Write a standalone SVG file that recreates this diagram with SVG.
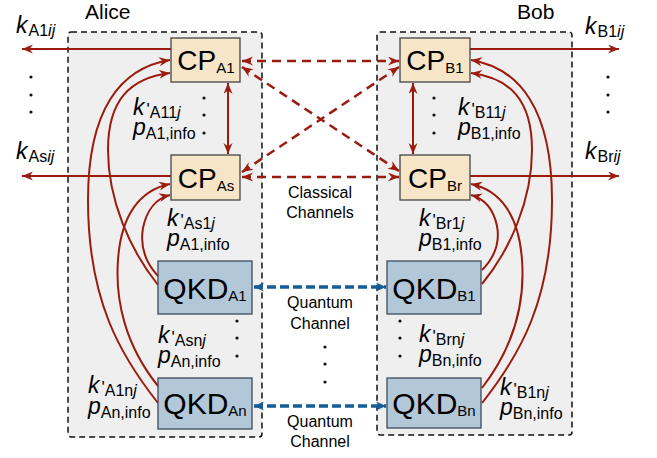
<svg xmlns="http://www.w3.org/2000/svg" width="657" height="458" viewBox="0 0 657 458">
<defs>
<style>
text{font-family:"Liberation Sans",Arial,sans-serif;fill:#000}
.party{fill:#efefef;stroke:#111;stroke-width:1.5;stroke-dasharray:6 4}
.cp{fill:#f6e5c6;stroke:#444;stroke-width:1.3}
.qkd{fill:#b2c8d9;stroke:#3b4b5b;stroke-width:1.3}
.big{font-size:28px}
.bigq{font-size:30px}
.bsub{font-size:15px}
.v{font-size:23px;font-style:italic}
.pr{font-size:17px;font-style:normal}
.s{font-size:16px;font-style:normal}
.si{font-size:16px;font-style:italic}
.lbl{font-size:16px}
.nm{font-size:21px}
.red{fill:none;stroke:#9b1c0f;stroke-width:2}
.cls{fill:none;stroke:#9b1c0f;stroke-width:2.5;stroke-dasharray:9 6}
.qc{fill:none;stroke:#155c99;stroke-width:3.5;stroke-dasharray:9 4}
.dot{fill:#111}
</style>
<marker id="ar" markerUnits="userSpaceOnUse" markerWidth="12" markerHeight="10" refX="11" refY="4.5" orient="auto-start-reverse">
<path d="M0,0 L11,4.5 L0,9 L3.5,4.5 z" fill="#9b1c0f"/>
</marker>
<marker id="ab" markerUnits="userSpaceOnUse" markerWidth="11" markerHeight="10" refX="10" refY="4.5" orient="auto-start-reverse">
<path d="M0,0 L10,4.5 L0,9 L3,4.5 z" fill="#155c99"/>
</marker>
</defs>

<g id="alice">
<rect class="party" x="68" y="32" width="194" height="405" rx="3"/>
<text class="nm" x="85" y="19">Alice</text>
</g>
<g id="bob">
<rect class="party" x="377" y="32" width="195" height="403" rx="3"/>
<text class="nm" x="517" y="19">Bob</text>
</g>

<g id="connectors">
<path class="red" d="M171,49 L22,49" marker-end="url(#ar)"/>
<path class="red" d="M171,176 L22,176" marker-end="url(#ar)"/>
<path class="red" d="M470,49 L619,49" marker-end="url(#ar)"/>
<path class="red" d="M470,176 L619,176" marker-end="url(#ar)"/>
<path class="red" d="M228,83 L228,154" marker-start="url(#ar)" marker-end="url(#ar)"/>
<path class="red" d="M413,83 L413,154" marker-start="url(#ar)" marker-end="url(#ar)"/>
<path class="cls" d="M242,61 L399,61" marker-start="url(#ar)" marker-end="url(#ar)"/>
<path class="cls" d="M242,177 L399,177" marker-start="url(#ar)" marker-end="url(#ar)"/>
<path class="cls" d="M242,67 L399,171" marker-start="url(#ar)" marker-end="url(#ar)"/>
<path class="cls" d="M242,172 L399,67" marker-start="url(#ar)" marker-end="url(#ar)"/>
<path class="qc" d="M254,287 L386,287" marker-start="url(#ab)" marker-end="url(#ab)"/>
<path class="qc" d="M254,406 L386,406" marker-start="url(#ab)" marker-end="url(#ab)"/>
<path class="red" d="M158,403 C120,355 88,300 88,200 C88,110 120,68 170,60" marker-end="url(#ar)"/>
<path class="red" d="M158,285 C130,250 108,200 108,150 C108,100 130,78 170,73" marker-end="url(#ar)"/>
<path class="red" d="M158,386 C125,345 115,300 118,260 C121,215 140,190 170,184" marker-end="url(#ar)"/>
<path class="red" d="M158,276 C145,262 140,245 143,228 C147,208 158,198 170,195" marker-end="url(#ar)"/>
<path class="red" d="M482,403 C520,355 552,300 552,200 C552,110 520,68 471,60" marker-end="url(#ar)"/>
<path class="red" d="M482,284 C510,250 532,200 532,150 C532,100 510,78 471,73" marker-end="url(#ar)"/>
<path class="red" d="M482,388 C515,345 525,300 522,260 C519,215 500,190 471,184" marker-end="url(#ar)"/>
<path class="red" d="M482,270 C495,257 500,242 497,226 C493,207 482,198 471,195" marker-end="url(#ar)"/>
</g>

<g id="cpA1">
<rect class="cp" x="171" y="38" width="69" height="44"/>
<text class="big" x="206" y="70" text-anchor="middle">CP<tspan class="bsub" dy="3">A1</tspan></text>
</g>
<g id="cpAs">
<rect class="cp" x="171" y="155" width="69" height="45"/>
<text class="big" x="206" y="188" text-anchor="middle">CP<tspan class="bsub" dy="3">As</tspan></text>
</g>
<g id="cpB1">
<rect class="cp" x="400" y="38" width="70" height="44"/>
<text class="big" x="435" y="70" text-anchor="middle">CP<tspan class="bsub" dy="3">B1</tspan></text>
</g>
<g id="cpBr">
<rect class="cp" x="400" y="155" width="70" height="45"/>
<text class="big" x="435" y="188" text-anchor="middle">CP<tspan class="bsub" dy="3">Br</tspan></text>
</g>
<g id="qkdA1">
<rect class="qkd" x="158" y="261" width="94" height="53"/>
<text class="bigq" x="205" y="299" text-anchor="middle">QKD<tspan class="bsub" dy="2">A1</tspan></text>
</g>
<g id="qkdAn">
<rect class="qkd" x="158" y="378" width="94" height="51"/>
<text class="bigq" x="205" y="414" text-anchor="middle">QKD<tspan class="bsub" dy="2">An</tspan></text>
</g>
<g id="qkdB1">
<rect class="qkd" x="387" y="261" width="94" height="53"/>
<text class="bigq" x="434" y="299" text-anchor="middle">QKD<tspan class="bsub" dy="2">B1</tspan></text>
</g>
<g id="qkdBn">
<rect class="qkd" x="387" y="378" width="94" height="50"/>
<text class="bigq" x="434" y="414" text-anchor="middle">QKD<tspan class="bsub" dy="2">Bn</tspan></text>
</g>

<g id="labels">
<text class="v" x="16" y="33">k<tspan class="s" dy="3" dx="1">A1</tspan><tspan class="si">ij</tspan></text>
<text class="v" x="16" y="159">k<tspan class="s" dy="3" dx="1">As</tspan><tspan class="si">ij</tspan></text>
<text class="v" x="585" y="34">k<tspan class="s" dy="3" dx="1">B1</tspan><tspan class="si">ij</tspan></text>
<text class="v" x="585" y="159">k<tspan class="s" dy="3" dx="1">Br</tspan><tspan class="si">ij</tspan></text>

<text class="v" x="133" y="115">k<tspan class="pr" dx="2">'</tspan><tspan class="s" dy="3">A11</tspan><tspan class="si">j</tspan></text>
<text class="v" x="133" y="135">p<tspan class="s" dy="4">A1,info</tspan></text>
<text class="v" x="167" y="226">k<tspan class="pr" dx="2">'</tspan><tspan class="s" dy="3">As1</tspan><tspan class="si">j</tspan></text>
<text class="v" x="167" y="246">p<tspan class="s" dy="4">A1,info</tspan></text>
<text class="v" x="158" y="343">k<tspan class="pr" dx="2">'</tspan><tspan class="s" dy="3">Asn</tspan><tspan class="si">j</tspan></text>
<text class="v" x="158" y="363">p<tspan class="s" dy="4">An,info</tspan></text>
<text class="v" x="88" y="393">k<tspan class="pr" dx="2">'</tspan><tspan class="s" dy="3">A1n</tspan><tspan class="si">j</tspan></text>
<text class="v" x="88" y="414">p<tspan class="s" dy="4">An,info</tspan></text>

<text class="v" x="458" y="115">k<tspan class="pr" dx="2">'</tspan><tspan class="s" dy="3">B11</tspan><tspan class="si">j</tspan></text>
<text class="v" x="458" y="135">p<tspan class="s" dy="4">B1,info</tspan></text>
<text class="v" x="419" y="226">k<tspan class="pr" dx="2">'</tspan><tspan class="s" dy="3">Br1</tspan><tspan class="si">j</tspan></text>
<text class="v" x="419" y="246">p<tspan class="s" dy="4">B1,info</tspan></text>
<text class="v" x="419" y="342">k<tspan class="pr" dx="2">'</tspan><tspan class="s" dy="3">Brn</tspan><tspan class="si">j</tspan></text>
<text class="v" x="419" y="362">p<tspan class="s" dy="4">Bn,info</tspan></text>
<text class="v" x="500" y="395">k<tspan class="pr" dx="2">'</tspan><tspan class="s" dy="3">B1n</tspan><tspan class="si">j</tspan></text>
<text class="v" x="500" y="415">p<tspan class="s" dy="4">Bn,info</tspan></text>

<text class="lbl" x="320" y="198" text-anchor="middle">Classical</text>
<text class="lbl" x="320" y="218" text-anchor="middle">Channels</text>
<text class="lbl" x="320" y="308" text-anchor="middle">Quantum</text>
<text class="lbl" x="320" y="329" text-anchor="middle">Channel</text>
<text class="lbl" x="320" y="427" text-anchor="middle">Quantum</text>
<text class="lbl" x="320" y="447" text-anchor="middle">Channel</text>
</g>

<g id="dots">
<circle class="dot" cx="31" cy="77" r="1.6"/><circle class="dot" cx="31" cy="95" r="1.6"/><circle class="dot" cx="31" cy="112" r="1.6"/>
<circle class="dot" cx="608" cy="77" r="1.6"/><circle class="dot" cx="608" cy="95" r="1.6"/><circle class="dot" cx="608" cy="112" r="1.6"/>
<circle class="dot" cx="204" cy="98" r="1.6"/><circle class="dot" cx="204" cy="115" r="1.6"/><circle class="dot" cx="204" cy="133" r="1.6"/>
<circle class="dot" cx="434" cy="98" r="1.6"/><circle class="dot" cx="434" cy="115" r="1.6"/><circle class="dot" cx="434" cy="133" r="1.6"/>
<circle class="dot" cx="237" cy="321" r="1.6"/><circle class="dot" cx="237" cy="338" r="1.6"/><circle class="dot" cx="237" cy="356" r="1.6"/>
<circle class="dot" cx="400" cy="321" r="1.6"/><circle class="dot" cx="400" cy="338" r="1.6"/><circle class="dot" cx="400" cy="356" r="1.6"/>
<circle class="dot" cx="325" cy="347" r="1.6"/><circle class="dot" cx="325" cy="364" r="1.6"/><circle class="dot" cx="325" cy="382" r="1.6"/>
</g>
</svg>
